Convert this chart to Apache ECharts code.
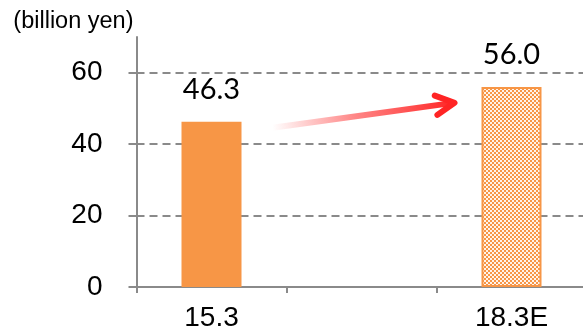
<!DOCTYPE html>
<html>
<head>
<meta charset="utf-8">
<script src="https://cdn.jsdelivr.net/npm/echarts@6/dist/echarts.min.js"></script>
<style>
  html, body { margin: 0; padding: 0; background: #fff; overflow: hidden; }
  /* the plot area runs slightly past the right edge of the window */
  #chart { width: 590px; height: 334px; }
</style>
</head>
<body>
<div id="chart"></div>
<script>
// Fiscal periods on the x axis (middle slot intentionally left blank)
const categories = ['15.3', '', '18.3E'];
// Results and estimate, billion yen
const values = [46.3, null, 56.0];
const yTicks = [0, 20, 40, 60];
const unitLabel = '(billion yen)';

const ORANGE = '#F79646';
const GREY = '#8a8a8a';
const AXIS_FONT = 'Liberation Sans, Arial, sans-serif';

// Small orange/white checker tile for the estimate bar
function checkerPattern() {
  const c = document.createElement('canvas');
  c.width = 4; c.height = 4;
  const g = c.getContext('2d');
  g.fillStyle = ORANGE;
  g.fillRect(0, 0, 4, 4);
  g.fillStyle = '#fff3ea';
  g.fillRect(0, 0, 2, 2);
  g.fillRect(2, 2, 2, 2);
  return { image: c, repeat: 'repeat' };
}

const chart = echarts.init(document.getElementById('chart'), null, { renderer: 'canvas' });

const barData = values.map((v, i) => {
  if (v == null) return '-';
  if (i === values.length - 1) {
    return {
      value: v,
      itemStyle: { color: checkerPattern(), borderColor: ORANGE, borderWidth: 2 }
    };
  }
  return { value: v, itemStyle: { color: ORANGE } };
});

chart.setOption({
  animation: false,
  grid: { left: 136.5, right: 3.5, top: 37, bottom: 47, containLabel: false, outerBoundsMode: 'none' },
  xAxis: {
    type: 'category',
    data: categories,
    boundaryGap: true,
    axisLine: { show: true, lineStyle: { color: GREY, width: 2 } },
    axisTick: { show: true, length: 6, alignWithLabel: false, lineStyle: { color: GREY, width: 2 } },
    axisLabel: { color: '#000', fontSize: 28, fontFamily: AXIS_FONT, margin: 17 },
    splitLine: { show: false }
  },
  yAxis: {
    type: 'value',
    min: yTicks[0],
    max: 70,
    interval: yTicks[1] - yTicks[0],
    name: unitLabel,
    nameLocation: 'end',
    nameGap: 15,
    nameTextStyle: {
      color: '#000', fontSize: 23.5, fontFamily: AXIS_FONT,
      align: 'right', verticalAlign: 'middle', padding: [0, 3, 0, 0]
    },
    axisLine: { show: true, lineStyle: { color: GREY, width: 2 } },
    axisTick: { show: true, length: 8, lineStyle: { color: GREY, width: 2 } },
    axisLabel: {
      color: '#000', fontSize: 28, fontFamily: AXIS_FONT, margin: 34,
      showMaxLabel: false,
      formatter: v => (yTicks.indexOf(v) >= 0 ? String(v) : '')
    },
    splitLine: {
      show: true, showMinLine: false, showMaxLine: false,
      lineStyle: { color: GREY, width: 2, type: [8, 5] }
    }
  },
  series: [{
    type: 'bar',
    data: barData,
    barWidth: 60,
    label: {
      show: true,
      position: 'top',
      distance: 18,
      color: '#000',
      fontSize: 29,
      fontFamily: 'Lato, Carlito, sans-serif',
      formatter: p => Number(p.value).toFixed(1)
    }
  }]
});

// Growth arrow from the result bar towards the estimate bar
function drawArrow() {
  const first = 0, last = values.length - 1;
  const p0 = chart.convertToPixel({ seriesIndex: 0 }, [first, values[first] - 1.7]);
  const p1 = chart.convertToPixel({ seriesIndex: 0 }, [last, values[last] - 4.4]);
  const x1 = p0[0] + 61, y1 = p0[1];
  const x2 = p1[0] - 57, y2 = p1[1];
  const ang = Math.atan2(y2 - y1, x2 - x1);
  const armLen = 21, spread = Math.PI / 6.5;
  const a1 = [x2 - armLen * Math.cos(ang - spread), y2 - armLen * Math.sin(ang - spread)];
  const a2 = [x2 - armLen * Math.cos(ang + spread), y2 - armLen * Math.sin(ang + spread)];
  const RED = '#ff2424';
  chart.setOption({
    graphic: [
      {
        type: 'line',
        shape: { x1: x1, y1: y1, x2: x2 - 3 * Math.cos(ang), y2: y2 - 3 * Math.sin(ang) },
        style: {
          lineWidth: 6,
          stroke: {
            type: 'linear', global: true,
            x: x1, y: y1, x2: x2, y2: y2,
            colorStops: [
              { offset: 0, color: 'rgba(255,36,36,0)' },
              { offset: 0.45, color: 'rgba(255,36,36,0.55)' },
              { offset: 1, color: RED }
            ]
          }
        },
        z: 10
      },
      {
        type: 'polyline',
        shape: { points: [a1, [x2, y2], a2] },
        style: { stroke: RED, lineWidth: 6, fill: null, lineCap: 'round', lineJoin: 'round' },
        z: 11
      }
    ]
  });
}
drawArrow();
</script>
</body>
</html>
